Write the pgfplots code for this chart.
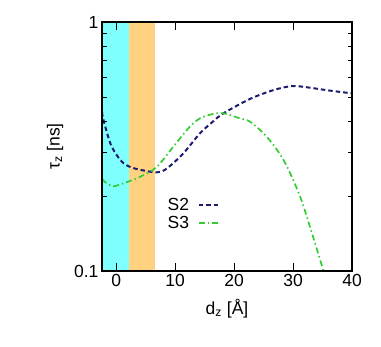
\documentclass[border=0pt]{standalone}
\usepackage{pgfplots}
\pgfplotsset{compat=1.18}
\usepackage{fontspec}
\setmainfont{Liberation Sans}

\definecolor{bandcyan}{HTML}{80FFFF}
\definecolor{bandorange}{HTML}{FFD280}
\definecolor{navyline}{HTML}{1C1C6E}
\definecolor{greenline}{HTML}{33CC33}

\begin{document}
\begin{tikzpicture}
\begin{axis}[
name=ax,ymode=log,scale only axis,width=250pt,height=249pt,
font=\fontsize{17.5}{19}\selectfont,
/pgf/number format/assume math mode=true,
xmin=-2.4,xmax=40,ymin=0.1,ymax=1,
xtick={0,10,20,30,40},xticklabels={0,10,20,30,40},
ytick={0.1,1},yticklabels={0.1,1},
minor ytick={0.2,0.3,0.4,0.5,0.6,0.7,0.8,0.9},
major tick length=8pt,minor tick length=4.5pt,
tick style={black,line width=0.9pt},
axis line style={black,line width=1.1pt},
axis on top,
xlabel={d\textsubscript{z} [Å]},ylabel={τ\textsubscript{z} [ns]},
xlabel style={yshift=-5pt},ylabel style={yshift=4pt},
legend plot pos=right,
legend style={draw=none,fill=none,at={(rel axis cs:0.25,0.305)},anchor=north west,
  row sep=0pt,column sep=7pt,inner sep=1pt},
legend image code/.code={\draw[#1,line width=1.6pt] (0pt,0pt) -- (21pt,0pt);},
]
\addplot[fill=bandcyan,draw=none,forget plot] coordinates {(-2.4,0.1) (2.25,0.1) (2.25,1) (-2.4,1)} -- cycle;
\addplot[fill=bandorange,draw=none,forget plot] coordinates {(2.25,0.1) (6.6,0.1) (6.6,1) (2.25,1)} -- cycle;

\addplot[navyline,line width=2pt,dash pattern=on 4.5pt off 3pt,smooth,tension=0.5] coordinates {
(-2.4,0.435) (-2.15,0.404) (-1.0,0.326) (0.1,0.292) (1.24,0.271) (2.5,0.261)
(4.07,0.255) (6.9,0.249) (8.6,0.258) (11.4,0.297) (14.2,0.357) (16.4,0.398)
(18.2,0.43) (22.7,0.491) (26.7,0.533) (29.8,0.553) (32.3,0.547) (36.3,0.530) (40,0.517)};
\addlegendentry{S2}

\addplot[greenline,line width=1.7pt,dash pattern=on 6pt off 3pt on 1.5pt off 3pt,smooth,tension=0.5] coordinates {
(-2.4,0.234) (-1.5,0.224) (-0.45,0.219) (1.24,0.225) (4.07,0.239) (6.9,0.262)
(9.7,0.316) (12.5,0.380) (14.2,0.41) (16.2,0.426) (18.2,0.43) (21,0.41)
(22.7,0.398) (25.5,0.347) (28.4,0.279) (31.2,0.199) (33.4,0.137) (35.1,0.101) (36,0.085)};
\addlegendentry{S3}
\end{axis}
\useasboundingbox ([shift={(-102pt,-75pt)}]ax.south west) rectangle ([shift={(29pt,22pt)}]ax.north east);
\end{tikzpicture}
\end{document}
